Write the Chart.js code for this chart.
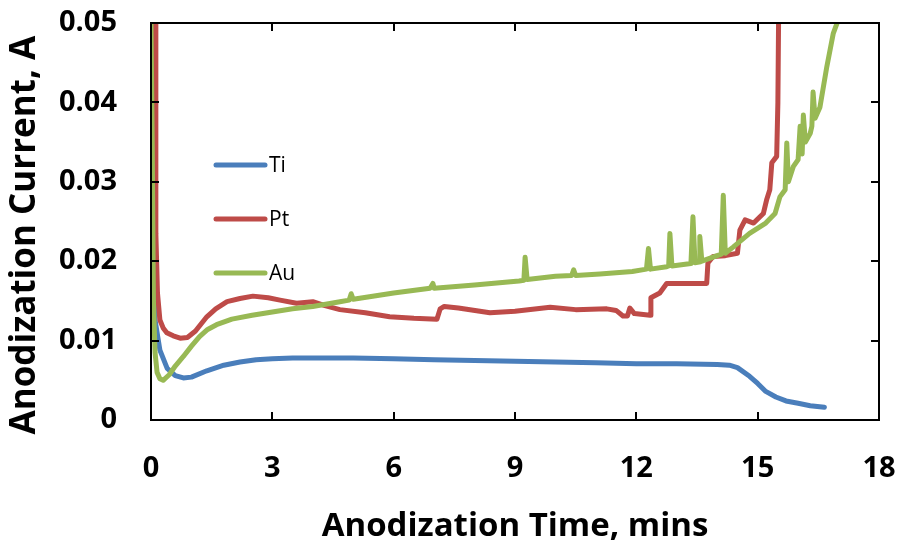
<!DOCTYPE html>
<html>
<head>
<meta charset="utf-8">
<script src="https://cdn.jsdelivr.net/npm/chart.js@4/dist/chart.umd.min.js"></script>
<style>
  html, body { margin: 0; padding: 0; background: #fff; }
  #wrap { width: 900px; height: 544px; }
</style>
</head>
<body>
<div id="wrap"><canvas id="chart" width="900" height="544"></canvas></div>
<script>
// anodization current vs time
const xTicks = [0, 3, 6, 9, 12, 15, 18];
const yTicks = [0, 0.01, 0.02, 0.03, 0.04, 0.05];

const tiTime = [0.02, 0.06, 0.1, 0.22, 0.4, 0.6, 0.8, 1.0, 1.38, 1.8, 2.2, 2.6, 3.0, 3.5, 4.0, 5, 6, 7, 8, 9, 10, 11, 12, 13, 14, 14.3, 14.5, 14.8, 15.0, 15.2, 15.45, 15.7, 16.0, 16.3, 16.65];
const tiCurrent = [0.05, 0.025, 0.0126, 0.0088, 0.0065, 0.0056, 0.0053, 0.0054, 0.0062, 0.0069, 0.0073, 0.0076, 0.0077, 0.0078, 0.0078, 0.0078, 0.0077, 0.0076, 0.0075, 0.0074, 0.0073, 0.0072, 0.0071, 0.0071, 0.0070, 0.0069, 0.0066, 0.0055, 0.0046, 0.0036, 0.0029, 0.0024, 0.0021, 0.0018, 0.0016];

const ptTime = [0.1, 0.12, 0.16, 0.22, 0.3, 0.39, 0.55, 0.72, 0.9, 1.1, 1.38, 1.6, 1.88, 2.2, 2.52, 2.9, 3.19, 3.6, 4.0, 4.3, 4.67, 5.3, 5.9, 6.5, 7.07, 7.15, 7.25, 7.6, 8.38, 9.0, 9.87, 10.5, 11.27, 11.5, 11.67, 11.78, 11.84, 11.95, 12.34, 12.36, 12.58, 12.75, 13.74, 13.77, 13.9, 14.2, 14.5, 14.56, 14.69, 14.9, 15.14, 15.22, 15.3, 15.35, 15.47, 15.5, 15.52];
const ptCurrent = [0.05, 0.0235, 0.016, 0.0126, 0.0116, 0.011, 0.0106, 0.0103, 0.0104, 0.0112, 0.013, 0.014, 0.0149, 0.0153, 0.0156, 0.0154, 0.0151, 0.0147, 0.0149, 0.0144, 0.0139, 0.0135, 0.0130, 0.0128, 0.0127, 0.0140, 0.0143, 0.0141, 0.0135, 0.0137, 0.0142, 0.0139, 0.0140, 0.0138, 0.0131, 0.0131, 0.0141, 0.0134, 0.0132, 0.0154, 0.016, 0.0172, 0.0172, 0.0198, 0.0206, 0.0207, 0.021, 0.0239, 0.0252, 0.0248, 0.026, 0.0277, 0.029, 0.0324, 0.0332, 0.04, 0.052];

const auTime = [0.0, 0.03, 0.06, 0.1, 0.15, 0.22, 0.3, 0.45, 0.6, 0.8, 1.0, 1.2, 1.4, 1.62, 2.0, 2.5, 3, 3.5, 4.0, 4.67, 4.9, 4.95, 5.0, 6.0, 6.9, 6.97, 7.0, 8, 9.1, 9.22, 9.25, 9.3, 10, 10.4, 10.45, 10.5, 11.1, 11.9, 12.25, 12.3, 12.35, 12.75, 12.8, 12.83, 12.88, 13.35, 13.4, 13.45, 13.55, 13.57, 13.62, 14.05, 14.1, 14.15, 14.2, 14.4, 14.8, 15.2, 15.43, 15.55, 15.68, 15.72, 15.76, 15.88, 16.0, 16.05, 16.1, 16.13, 16.18, 16.3, 16.34, 16.37, 16.42, 16.54, 16.71, 16.87, 17.0];
const auCurrent = [0.05, 0.035, 0.015, 0.0085, 0.006, 0.0052, 0.005, 0.0057, 0.0068, 0.008, 0.0093, 0.0105, 0.0114, 0.012, 0.0127, 0.0132, 0.0136, 0.014, 0.0143, 0.0149, 0.0151, 0.0159, 0.0152, 0.016, 0.0166, 0.0172, 0.0166, 0.017, 0.0175, 0.0176, 0.0205, 0.0177, 0.0181, 0.0182, 0.0189, 0.0182, 0.0184, 0.0187, 0.019, 0.0216, 0.019, 0.0193, 0.0194, 0.0235, 0.0194, 0.0197, 0.0256, 0.0198, 0.0199, 0.0231, 0.02, 0.0208, 0.0209, 0.0283, 0.021, 0.0218, 0.0235, 0.0248, 0.026, 0.0281, 0.029, 0.0349, 0.030, 0.0319, 0.0328, 0.037, 0.0335, 0.0384, 0.035, 0.0361, 0.037, 0.0413, 0.038, 0.0394, 0.0445, 0.0487, 0.0505];

const seriesNames = ['Ti', 'Pt', 'Au'];
const seriesColors = ['#4A7EBB', '#BE4B48', '#98B954'];

const toPoints = (xs, ys) => xs.map((x, i) => ({ x, y: ys[i] }));

// inward tick marks + full box, like the original spreadsheet chart
const frame = {
  id: 'frame',
  afterDraw(chart) {
    const { ctx, chartArea: a, scales: { x, y } } = chart;
    const len = 8;
    ctx.save();
    ctx.strokeStyle = '#000';
    ctx.lineWidth = 2;
    ctx.strokeRect(a.left, a.top, a.right - a.left, a.bottom - a.top);
    ctx.beginPath();
    xTicks.forEach(v => {
      const px = Math.round(x.getPixelForValue(v));
      ctx.moveTo(px, a.bottom); ctx.lineTo(px, a.bottom - len);
      ctx.moveTo(px, a.top); ctx.lineTo(px, a.top + len);
    });
    yTicks.forEach(v => {
      const py = Math.round(y.getPixelForValue(v));
      ctx.moveTo(a.left, py); ctx.lineTo(a.left + len, py);
      ctx.moveTo(a.right, py); ctx.lineTo(a.right - len, py);
    });
    ctx.stroke();
    ctx.restore();
  }
};

// legend sitting inside the plot, stacked vertically
const insideLegend = {
  id: 'insideLegend',
  afterDraw(chart) {
    const { ctx } = chart;
    ctx.save();
    ctx.font = '21px "Open Sans"';
    ctx.textBaseline = 'middle';
    ctx.lineCap = 'round';
    ctx.lineWidth = 5;
    seriesNames.forEach((name, i) => {
      const yy = 165 + i * 54;
      ctx.strokeStyle = seriesColors[i];
      ctx.beginPath();
      ctx.moveTo(216, yy); ctx.lineTo(265, yy);
      ctx.stroke();
      ctx.fillStyle = '#000';
      ctx.fillText(name, 269, yy + 1);
    });
    ctx.restore();
  }
};

const line = (i, xs, ys, order) => ({
  label: seriesNames[i],
  data: toPoints(xs, ys),
  borderColor: seriesColors[i],
  backgroundColor: seriesColors[i],
  borderWidth: 5,
  pointRadius: 0,
  tension: 0,
  borderJoinStyle: 'round',
  borderCapStyle: 'round',
  clip: 0,
  order,
});

// fixed axis boxes, no extra room for overhanging edge labels
const fixBox = (size) => (s) => {
  if (s.isHorizontal()) s.height = size; else s.width = size;
  s.paddingLeft = s.paddingRight = s.paddingTop = s.paddingBottom = 0;
};

new Chart(document.getElementById('chart'), {
  type: 'line',
  data: {
    datasets: [
      line(0, tiTime, tiCurrent, 3),
      line(1, ptTime, ptCurrent, 2),
      line(2, auTime, auCurrent, 1),
    ],
  },
  options: {
    responsive: false,
    animation: false,
    layout: { autoPadding: false, padding: { left: 0, right: 21, top: 23, bottom: 0 } },
    plugins: { legend: { display: false }, tooltip: { enabled: false } },
    scales: {
      x: {
        type: 'linear', min: 0, max: 18,
        afterFit: fixBox(124),
        afterBuildTicks: s => { s.ticks = xTicks.map(v => ({ value: v })); },
        grid: { display: false, drawTicks: false },
        border: { display: false },
        ticks: { padding: 31, color: '#000', font: { family: 'Open Sans', weight: 'bold', size: 29 } },
        title: {
          display: true, text: 'Anodization Time, mins', color: '#000',
          padding: { top: 0, bottom: 1 },
          font: { family: 'Open Sans', weight: 'bold', size: 33, lineHeight: 1 },
        },
      },
      y: {
        type: 'linear', min: 0, max: 0.05,
        afterFit: fixBox(151),
        afterBuildTicks: s => { s.ticks = yTicks.map(v => ({ value: v })); },
        grid: { display: false, drawTicks: false },
        border: { display: false },
        ticks: {
          padding: 34, color: '#000',
          font: { family: 'Open Sans', weight: 'bold', size: 29 },
          callback: v => (v === 0 ? '0' : v.toFixed(2)),
        },
        title: {
          // trailing spaces nudge the centred label a little lower, as in the original
          display: true, text: 'Anodization Current, A   ', color: '#000',
          padding: { top: 8, bottom: 0 },
          font: { family: 'Open Sans', weight: 'bold', size: 35, lineHeight: 1 },
        },
      },
    },
  },
  plugins: [frame, insideLegend],
});
</script>
</body>
</html>
